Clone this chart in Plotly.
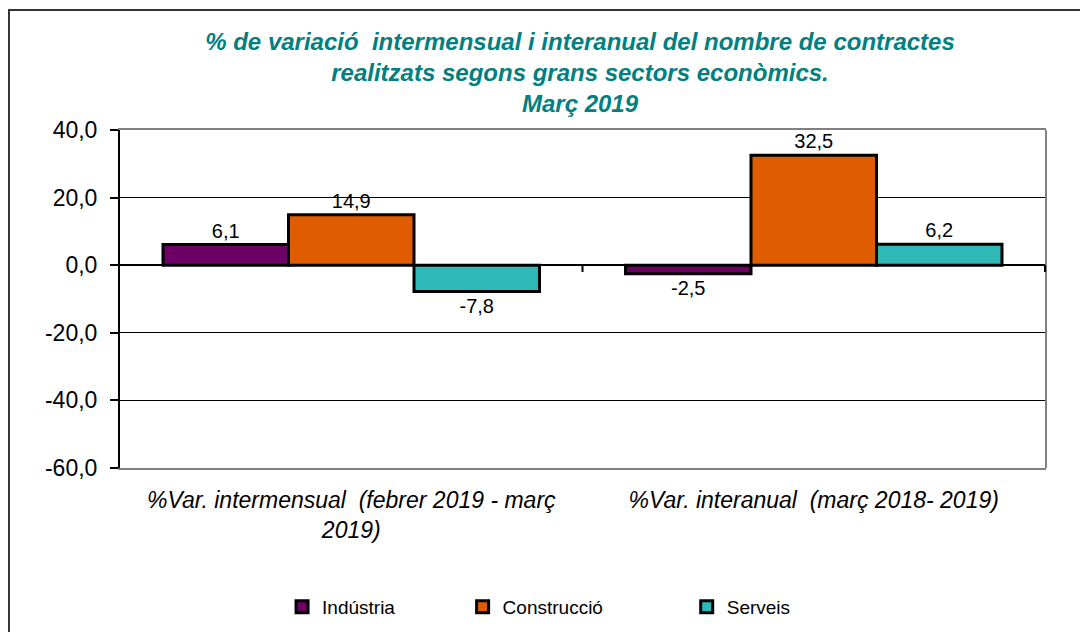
import plotly.graph_objects as go

categories = ["%Var. intermensual  (febrer 2019 - març<br>2019)", "%Var. interanual  (març 2018- 2019)"]
industria = [6.1, -2.5]
construccio = [14.9, 32.5]
serveis = [-7.8, 6.2]
series_names = ["Indústria", "Construcció", "Serveis"]
series_values = [industria, construccio, serveis]
series_colors = ["#6c0064", "#e05c00", "#2fb8b8"]
y_ticks = [40, 20, 0, -20, -40, -60]
y_tick_labels = ["40,0", "20,0", "0,0", "-20,0", "-40,0", "-60,0"]

FONT = "Liberation Sans, Arial"
fig = go.Figure()
legend_ids = ["legend", "legend2", "legend3"]
for name, vals, col, lg in zip(series_names, series_values, series_colors, legend_ids):
    fig.add_trace(go.Bar(
        x=categories, y=vals, name=name,
        marker=dict(color=col, line=dict(color="black", width=3)),
        texttemplate="%{y:.1f}", textposition="outside",
        textfont=dict(size=20, color="black", family=FONT),
        cliponaxis=False, legend=lg, showlegend=True,
    ))

legend_common = dict(orientation="h", yanchor="middle", xanchor="left",
                     font=dict(size=19, color="black", family=FONT),
                     bgcolor="rgba(0,0,0,0)", itemwidth=30)
# page body adds an 8px offset; margins compensate so the plot area sits at x 120-1046, y 130-468
fig.update_layout(
    width=1088, height=632,
    separators=",.",
    showlegend=True,
    barmode="group", bargap=0.186, bargroupgap=0,
    paper_bgcolor="white", plot_bgcolor="white",
    margin=dict(l=112, r=50, t=122, b=172),
    font=dict(family=FONT, color="black"),
    title=dict(
        text="% de variació  intermensual i interanual del nombre de contractes<br>realitzats segons grans sectors econòmics.<br>Març 2019",
        x=(580 - 8) / 1088, xanchor="center", y=1 - 42 / 632, yanchor="top",
        font=dict(size=24, color="#008080", family=FONT, weight="bold", style="italic"),
    ),
    legend=dict(x=0.175, y=-0.411, **legend_common),
    legend2=dict(x=0.370, y=-0.411, **legend_common),
    legend3=dict(x=0.612, y=-0.411, **legend_common),
    xaxis=dict(
        showline=True, linecolor="#808080", linewidth=2, mirror=True,
        ticks="", tickfont=dict(size=23, style="italic", color="black"),
        ticklabelstandoff=10,
    ),
    yaxis=dict(
        range=[-60, 40], tickvals=y_ticks, ticktext=y_tick_labels,
        showline=True, linecolor="black", linewidth=2,
        ticks="outside", ticklen=8, tickwidth=2, tickcolor="black",
        tickfont=dict(size=23, color="black"), ticklabelstandoff=8,
        showgrid=True, gridcolor="black", gridwidth=1,
        zeroline=True, zerolinecolor="black", zerolinewidth=2,
    ),
    shapes=[
        dict(type="line", xref="paper", yref="paper", x0=1, x1=1, y0=0, y1=1,
             line=dict(color="#808080", width=2)),
        dict(type="line", xref="x", yref="y", x0=0.5, x1=0.5, y0=0, y1=-2,
             line=dict(color="black", width=2)),
        dict(type="line", xref="x", yref="y", x0=1.5, x1=1.5, y0=0, y1=-2,
             line=dict(color="black", width=2)),
        dict(type="rect", xref="paper", yref="paper",
             x0=-0.1199, x1=1.07, y0=-0.62, y1=1.355,
             line=dict(color="#333333", width=2)),
    ],
)
fig.write_html("out.html")
